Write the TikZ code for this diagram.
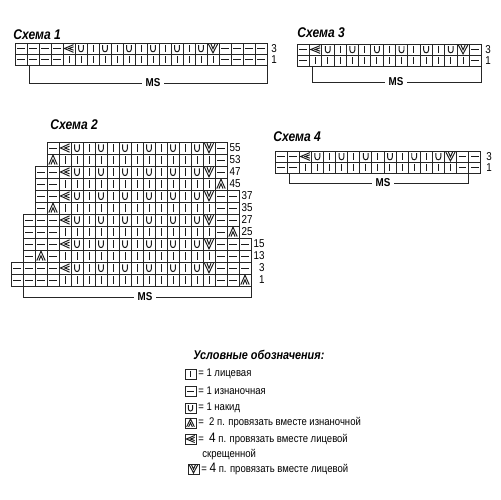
\documentclass[tikz,border=0pt]{standalone}
\usepackage{fontspec}
\setmainfont[FakeStretch=0.86]{Liberation Sans}
\usetikzlibrary{math}

\tikzset{
  grid/.style={line width=0.4pt, black!85},
  sym/.style={line width=0.55pt, black!90},
  rowno/.style={anchor=west, inner sep=0pt, font=\fontsize{6.5}{7}\selectfont},
  rownoR/.style={anchor=east, inner sep=0pt, font=\fontsize{6.5}{7}\selectfont},
  title/.style={anchor=west, inner sep=0pt, font=\fontsize{8}{9}\selectfont\bfseries\itshape},
  ms/.style={inner sep=2pt, font=\fontsize{6.5}{7}\selectfont\bfseries},
  legend/.style={anchor=west, inner sep=0pt, font=\fontsize{6.3}{7}\selectfont},
}

% stitch symbols, drawn in a unit cell (y points down)
\newcommand{\symk}{\draw[sym] (0.5,0.18) -- (0.5,0.82);}
\newcommand{\symp}{\draw[sym] (0.18,0.5) -- (0.82,0.5);}
\newcommand{\symyo}{\draw[sym] (0.3,0.2) -- (0.3,0.55) .. controls (0.3,0.88) and (0.7,0.88) .. (0.7,0.55) -- (0.7,0.2);}
\newcommand{\symptog}{\draw[sym] (0.15,0.88) -- (0.5,0.1) -- (0.85,0.88);
  \draw[sym] (0.33,0.88) -- (0.5,0.48) -- (0.67,0.88);}
\newcommand{\symktbl}{\draw[sym] (0.88,0.15) -- (0.12,0.5) -- (0.88,0.85);
  \draw[sym] (0.88,0.35) -- (0.48,0.5) -- (0.88,0.65);}
\newcommand{\symktog}{\draw[sym] (0.12,0.1) -- (0.5,0.9) -- (0.88,0.1);
  \draw[sym] (0.33,0.1) -- (0.5,0.52) -- (0.67,0.1);}

% one chart row: x0, y0, cell width, cell height, stitches
\newcommand{\krow}[5]{%
  \foreach \s [count=\i from 0] in {#5} {
    \begin{scope}[shift={({#1+\i*#3},#2)}, xscale=#3, yscale=#4]
      \draw[grid] (0,0) rectangle (1,1);
      \csname sym\s\endcsname
    \end{scope}
  }%
}

\begin{document}
\begin{tikzpicture}[x=0.02cm, y=-0.02cm]
\useasboundingbox (0,0) rectangle (500,500);
\tikzmath{
\cw=12; \ch=12;
}

%% Schema 1
\node[title] (t1) at (13,35) {Схема 1};
\krow{15}{43}{12}{11}{p,p,p,p,ktbl,yo,k,yo,k,yo,k,yo,k,yo,k,yo,ktog,p,p,p,p}
\krow{15}{54}{12}{11}{p,p,p,p,k,k,k,k,k,k,k,k,k,k,k,k,k,p,p,p,p}
\node[rowno] (s1r3) at (271,48.5) {3};
\node[rowno] (s1r1) at (271,59.5) {1};
\coordinate (s1L) at (29,65);
\coordinate (s1R) at (267,65);
\node[ms] (s1ms) at (153,83) {MS};
\draw[grid] (s1L) |- (s1ms.west);
\draw[grid] (s1ms.east) -| (s1R);

%% Schema 3
\node[title] (t3) at (297,33) {Схема 3};
\krow{297}{44}{12.3}{11}{p,ktbl,yo,k,yo,k,yo,k,yo,k,yo,k,yo,ktog,p}
\krow{297}{55}{12.3}{11}{p,k,k,k,k,k,k,k,k,k,k,k,k,k,p}
\node[rowno] (s3r3) at (485,49.5) {3};
\node[rowno] (s3r1) at (485,60.5) {1};
\coordinate (s3L) at (312,66);
\coordinate (s3R) at (481.5,66);
\node[ms] (s3ms) at (396,82) {MS};
\draw[grid] (s3L) |- (s3ms.west);
\draw[grid] (s3ms.east) -| (s3R);

%% Schema 2
\node[title] (t2) at (50,125) {Схема 2};
\krow{47}{142}{\cw}{\ch}{p,ktbl,yo,k,yo,k,yo,k,yo,k,yo,k,yo,ktog,p}
\krow{47}{154}{\cw}{\ch}{ptog,k,k,k,k,k,k,k,k,k,k,k,k,k,p}
\krow{35}{166}{\cw}{\ch}{p,p,ktbl,yo,k,yo,k,yo,k,yo,k,yo,k,yo,ktog,p}
\krow{35}{178}{\cw}{\ch}{p,p,k,k,k,k,k,k,k,k,k,k,k,k,k,ptog}
\krow{35}{190}{\cw}{\ch}{p,p,ktbl,yo,k,yo,k,yo,k,yo,k,yo,k,yo,ktog,p,p}
\krow{35}{202}{\cw}{\ch}{p,ptog,k,k,k,k,k,k,k,k,k,k,k,k,k,p,p}
\krow{23}{214}{\cw}{\ch}{p,p,p,ktbl,yo,k,yo,k,yo,k,yo,k,yo,k,yo,ktog,p,p}
\krow{23}{226}{\cw}{\ch}{p,p,p,k,k,k,k,k,k,k,k,k,k,k,k,k,p,ptog}
\krow{23}{238}{\cw}{\ch}{p,p,p,ktbl,yo,k,yo,k,yo,k,yo,k,yo,k,yo,ktog,p,p,p}
\krow{23}{250}{\cw}{\ch}{p,ptog,p,k,k,k,k,k,k,k,k,k,k,k,k,k,p,p,p}
\krow{11}{262}{\cw}{\ch}{p,p,p,p,ktbl,yo,k,yo,k,yo,k,yo,k,yo,k,yo,ktog,p,p,p}
\krow{11}{274}{\cw}{\ch}{p,p,p,p,k,k,k,k,k,k,k,k,k,k,k,k,k,p,p,ptog}
\foreach \r/\y/\xr in {55/148/227,53/160/227,47/172/227,45/184/227,
    37/196/239,35/208/239,27/220/239,25/232/239,
    15/244/251,13/256/251,3/268/251,1/280/251}
  \node[rownoR] (s2r\r) at (\xr+14,\y) {\r};
\coordinate (s2L) at (23,286);
\coordinate (s2R) at (251,286);
\node[ms] (s2ms) at (145,297) {MS};
\draw[grid] (s2L) |- (s2ms.west);
\draw[grid] (s2ms.east) -| (s2R);

%% Schema 4
\node[title] (t4) at (273,137) {Схема 4};
\krow{275}{151}{12.1}{11}{p,p,ktbl,yo,k,yo,k,yo,k,yo,k,yo,k,yo,ktog,p,p}
\krow{275}{162}{12.1}{11}{p,p,k,k,k,k,k,k,k,k,k,k,k,k,k,p,p}
\node[rowno] (s4r3) at (486,156.5) {3};
\node[rowno] (s4r1) at (486,167.5) {1};
\coordinate (s4L) at (289,173);
\coordinate (s4R) at (468.6,173);
\node[ms] (s4ms) at (383,183) {MS};
\draw[grid] (s4L) |- (s4ms.west);
\draw[grid] (s4ms.east) -| (s4R);

%% legend
\node[anchor=west, inner sep=0pt, font=\fontsize{7.2}{8}\selectfont\bfseries\itshape] (lt) at (193,355) {Условные обозначения:};
\krow{185}{369}{11}{10}{k}
\node[legend] (l1) at (198,374) {= 1 лицевая};
\krow{185}{386}{11}{10}{p}
\node[legend] (l2) at (198,391) {= 1 изнаночная};
\krow{185}{403}{11}{10}{yo}
\node[legend] (l3) at (198,408) {= 1 накид};
\krow{185}{418}{11}{10}{ptog}
\node[legend] (l4) at (198,423) {=\ \ 2 п. провязать вместе изнаночной};
\krow{185}{434}{11}{10}{ktbl}
\node[legend] (l5) at (198,439) {=\ \ {\fontsize{7.8}{8}\selectfont 4} п. провязать вместе лицевой};
\node[legend] (l5b) at (202,455) {скрещенной};
\krow{188}{464}{11}{10}{ktog}
\node[legend] (l6) at (201,469) {= {\fontsize{7.8}{8}\selectfont 4} п. провязать вместе лицевой};

\end{tikzpicture}
\end{document}
